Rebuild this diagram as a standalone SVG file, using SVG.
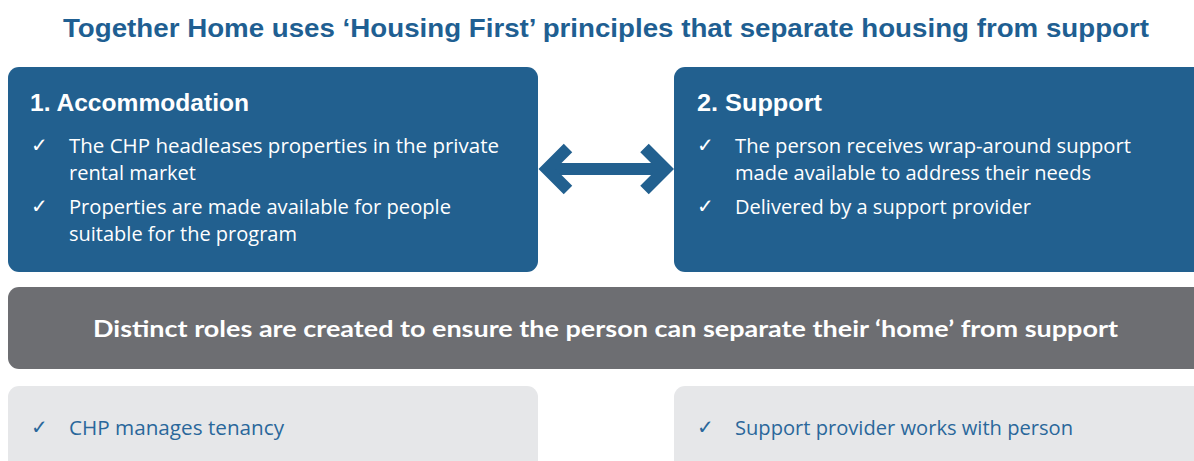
<svg xmlns="http://www.w3.org/2000/svg" width="1194" height="461" viewBox="0 0 1194 461">
  <style>
    .title { font-family: "Liberation Sans", Arial, sans-serif; font-weight: bold; font-size: 26px; fill: #1f5f92; }
    .head { font-family: "Liberation Sans", Arial, sans-serif; font-weight: bold; font-size: 23px; fill: #ffffff; }
    .item { font-family: "Open Sans", "Noto Sans", sans-serif; font-size: 19.5px; fill: #ffffff; }
    .tick { font-family: "DejaVu Sans", sans-serif; font-size: 20px; fill: #ffffff; }
    .band { font-family: "Lato", "Open Sans", sans-serif; font-weight: bold; font-size: 22.5px; fill: #ffffff; }
    .role { font-family: "Open Sans", "Noto Sans", sans-serif; font-size: 19.5px; fill: #2a679b; }
    .role-tick { font-family: "DejaVu Sans", sans-serif; font-size: 20px; fill: #2a679b; }
    .blue { fill: #22608f; }
    .grey { fill: #6d6e72; }
    .light { fill: #e6e7e9; }
    .link { fill: none; stroke: #22608f; stroke-width: 12; stroke-linejoin: miter; stroke-linecap: butt; }
  </style>

  <rect width="1194" height="461" fill="#ffffff"/>

  <text class="title" x="63" y="36.5" textLength="1086" lengthAdjust="spacingAndGlyphs">Together Home uses ‘Housing First’ principles that separate housing from support</text>

  <g id="accommodation">
    <rect class="blue" x="8" y="67" width="530" height="205" rx="11"/>
    <text class="head" x="30" y="110.5" textLength="219" lengthAdjust="spacingAndGlyphs">1. Accommodation</text>
    <text class="tick" x="31" y="152">✓</text>
    <text class="item" x="69" y="152.5" textLength="430" lengthAdjust="spacingAndGlyphs">The CHP headleases properties in the private</text>
    <text class="item" x="69" y="179.5" textLength="127" lengthAdjust="spacingAndGlyphs">rental market</text>
    <text class="tick" x="31" y="213">✓</text>
    <text class="item" x="69" y="213.5" textLength="382" lengthAdjust="spacingAndGlyphs">Properties are made available for people</text>
    <text class="item" x="69" y="240.5" textLength="228" lengthAdjust="spacingAndGlyphs">suitable for the program</text>
  </g>

  <g id="support">
    <rect class="blue" x="674" y="67" width="530" height="205" rx="11"/>
    <text class="head" x="697" y="110.5" textLength="125" lengthAdjust="spacingAndGlyphs">2. Support</text>
    <text class="tick" x="697" y="152">✓</text>
    <text class="item" x="735" y="152.5" textLength="396" lengthAdjust="spacingAndGlyphs">The person receives wrap-around support</text>
    <text class="item" x="735" y="179.5" textLength="356" lengthAdjust="spacingAndGlyphs">made available to address their needs</text>
    <text class="tick" x="697" y="213">✓</text>
    <text class="item" x="735" y="213.5" textLength="296" lengthAdjust="spacingAndGlyphs">Delivered by a support provider</text>
  </g>

  <g id="connectors">
    <line class="link" x1="548" y1="169" x2="664" y2="169"/>
    <polyline class="link" points="568,148 547,169 568,190"/>
    <polyline class="link" points="644.5,148 665.5,169 644.5,190"/>
  </g>

  <g id="roles-band">
    <rect class="grey" x="8" y="287" width="1196" height="82" rx="11"/>
    <text class="band" x="93" y="336.5" textLength="1025" lengthAdjust="spacingAndGlyphs">Distinct roles are created to ensure the person can separate their ‘home’ from support</text>
  </g>

  <g id="tenancy">
    <rect class="light" x="8" y="386" width="530" height="90" rx="11"/>
    <text class="role-tick" x="31" y="434">✓</text>
    <text class="role" x="69" y="434.5" textLength="215" lengthAdjust="spacingAndGlyphs">CHP manages tenancy</text>
  </g>

  <g id="provider">
    <rect class="light" x="674" y="386" width="530" height="90" rx="11"/>
    <text class="role-tick" x="697" y="434">✓</text>
    <text class="role" x="735" y="434.5" textLength="338" lengthAdjust="spacingAndGlyphs">Support provider works with person</text>
  </g>
</svg>
